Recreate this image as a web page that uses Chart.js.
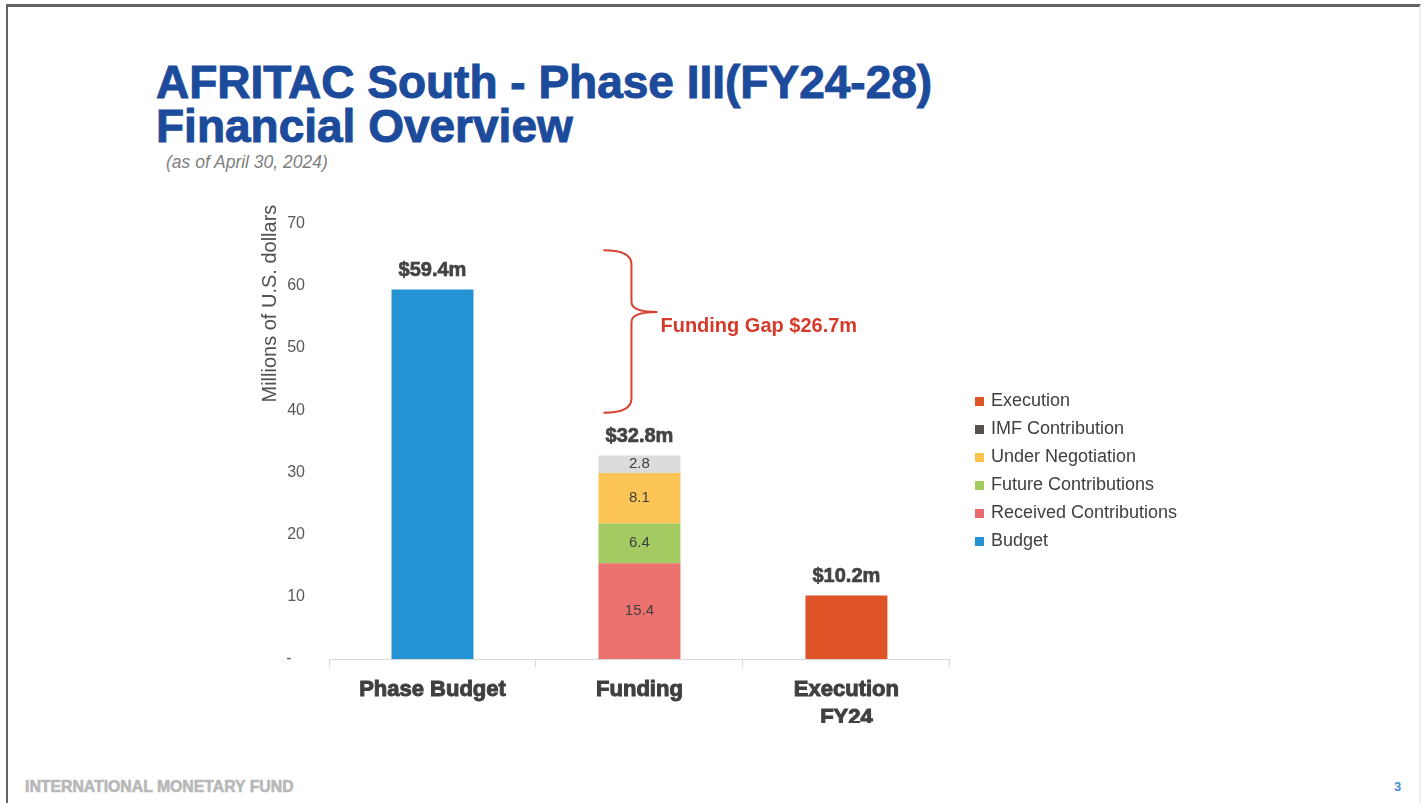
<!DOCTYPE html>
<html>
<head>
<meta charset="utf-8">
<title>AFRITAC South - Phase III Financial Overview</title>
<script src="https://cdn.jsdelivr.net/npm/chart.js@4.4.1/dist/chart.umd.min.js"></script>
<style>
  html, body { margin: 0; padding: 0; background: #fff; }
  body { width: 1426px; height: 803px; position: relative; overflow: hidden; font-family: "Liberation Sans", Arial, sans-serif; }
  .frame { position: absolute; left: 6px; top: 4px; width: 1411px; height: 830px; border-top: 3px solid #636363; border-left: 2px solid #636363; border-right: 2px solid #ececec; }
  .title { position: absolute; left: 156px; top: 60px; font-size: 46px; line-height: 44px; font-weight: bold; color: #1d4b9b; -webkit-text-stroke: 1px #1d4b9b; white-space: nowrap; }
  .sub { position: absolute; left: 166px; top: 152px; font-size: 17.5px; line-height: 20px; font-style: italic; color: #7f7f7f; white-space: nowrap; }
  .footer { position: absolute; left: 25px; top: 778px; font-size: 15.8px; line-height: 18px; font-weight: bold; color: #b8b8b8; -webkit-text-stroke: 0.6px #b8b8b8; white-space: nowrap; }
  .page { position: absolute; left: 1394px; top: 779px; font-size: 13px; line-height: 16px; font-weight: bold; color: #3d8fd6; }
  #chartBox { position: absolute; left: 200px; top: 190px; }
</style>
</head>
<body>
<div class="frame"></div>
<div class="title">AFRITAC South - Phase III(FY24-28)<br>Financial Overview</div>
<div class="sub">(as of April 30, 2024)</div>
<div id="chartBox"><canvas id="chart" width="1000" height="543"></canvas></div>
<div class="footer">INTERNATIONAL MONETARY FUND</div>
<div class="page">3</div>

<script>
// data
const categories = ['Phase Budget', 'Funding', ['Execution', 'FY24']];
const budget = [59.4, null, null];
const received = [null, 15.4, null];
const future = [null, 6.4, null];
const underNegotiation = [null, 8.1, null];
const imfContribution = [null, 2.8, null];
const execution = [null, null, 10.2];
const totalLabels = ['$59.4m', '$32.8m', '$10.2m'];
const yTitle = 'Millions of U.S. dollars';
const gapLabel = 'Funding Gap $26.7m';
const gapRange = [39.6, 65.7]; // brace ends, in millions
const gapTip = 55.8;

// colours
const barColors = ['#2592d4', '#ec726f', '#a4cb62', '#fdc556', '#dcdcdc', '#df5426'];
const legendColors = ['#2592d4', '#ea6b6b', '#a2cb5e', '#fcc24e', '#58524e', '#df5426'];

Chart.defaults.font.family = '"Liberation Sans", Arial, sans-serif';

function legendSquare(color) {
  const c = document.createElement('canvas');
  c.width = 9; c.height = 9;
  const g = c.getContext('2d');
  g.fillStyle = color;
  g.fillRect(0, 0, 9, 9);
  return c;
}

const series = [
  ['Budget', budget],
  ['Received Contributions', received],
  ['Future Contributions', future],
  ['Under Negotiation', underNegotiation],
  ['IMF Contribution', imfContribution],
  ['Execution', execution]
];
const insideLabels = ['Received Contributions', 'Future Contributions', 'Under Negotiation', 'IMF Contribution'];

const datasets = series.map(([name, values], i) => ({
  label: name,
  data: values,
  backgroundColor: barColors[i],
  pointStyle: legendSquare(legendColors[i]),
  barPercentage: 0.396,
  categoryPercentage: 1
}));

// value labels, brace and axis title
const annotations = {
  id: 'annotations',
  afterDatasetsDraw(chart) {
    const { ctx, chartArea, scales: { x, y } } = chart;
    ctx.save();
    ctx.textAlign = 'center';
    ctx.textBaseline = 'middle';

    ctx.font = '15px "Liberation Sans", Arial, sans-serif';
    ctx.fillStyle = '#404040';
    chart.data.datasets.forEach((ds, di) => {
      if (!insideLabels.includes(ds.label)) return;
      chart.getDatasetMeta(di).data.forEach((bar, i) => {
        if (ds.data[i] == null) return;
        ctx.fillText(ds.data[i].toFixed(1), bar.x, (bar.y + bar.base) / 2);
      });
    });

    ctx.font = 'bold 20px "Liberation Sans", Arial, sans-serif';
    ctx.fillStyle = '#434343';
    ctx.strokeStyle = '#434343';
    ctx.lineWidth = 0.7;
    categories.forEach((c, i) => {
      let top = Infinity, cx = 0;
      chart.data.datasets.forEach((ds, di) => {
        if (ds.data[i] == null) return;
        const bar = chart.getDatasetMeta(di).data[i];
        if (bar.y < top) { top = bar.y; cx = bar.x; }
      });
      ctx.strokeText(totalLabels[i], cx, top - 19);
      ctx.fillText(totalLabels[i], cx, top - 19);
    });

    // funding gap brace
    const cx = x.getPixelForValue(1);
    const hookX = cx - 36, spineX = cx - 8, tipX = cx + 18;
    const yTop = y.getPixelForValue(gapRange[1]);
    const yBot = y.getPixelForValue(gapRange[0]);
    const yTip = y.getPixelForValue(gapTip);
    ctx.strokeStyle = '#d8412f';
    ctx.lineWidth = 2;
    ctx.beginPath();
    ctx.moveTo(hookX, yTop);
    ctx.quadraticCurveTo(spineX, yTop, spineX, yTop + 14);
    ctx.lineTo(spineX, yTip - 10);
    ctx.quadraticCurveTo(spineX, yTip, tipX, yTip);
    ctx.moveTo(tipX, yTip);
    ctx.quadraticCurveTo(spineX, yTip, spineX, yTip + 10);
    ctx.lineTo(spineX, yBot - 14);
    ctx.quadraticCurveTo(spineX, yBot, hookX, yBot);
    ctx.stroke();

    ctx.fillStyle = '#d63a2a';
    ctx.textAlign = 'left';
    ctx.fillText(gapLabel, tipX + 3, yTip + 15);

    // y axis title
    ctx.font = '20px "Liberation Sans", Arial, sans-serif';
    ctx.fillStyle = '#505050';
    ctx.textAlign = 'center';
    ctx.translate(chartArea.left - 59, chartArea.top + 80);
    ctx.rotate(-Math.PI / 2);
    ctx.fillText(yTitle, 0, 0);
    ctx.restore();
  }
};

new Chart(document.getElementById('chart'), {
  type: 'bar',
  data: { labels: categories, datasets: datasets },
  options: {
    responsive: false,
    animation: false,
    layout: { padding: { top: 29, left: 69, right: 13, bottom: 10 } },
    plugins: {
      tooltip: { enabled: false },
      legend: {
        position: 'right',
        reverse: true,
        maxWidth: 240,
        labels: {
          usePointStyle: true,
          pointStyleWidth: 5,
          boxHeight: 9,
          padding: 10,
          color: '#404040',
          font: { size: 18 }
        }
      }
    },
    scales: {
      x: {
        stacked: true,
        grid: { display: true, drawOnChartArea: false, offset: true, tickLength: 8, color: '#d9d9d9' },
        border: { display: true, color: '#d9d9d9', width: 1 },
        ticks: {
          color: '#404040',
          textStrokeColor: '#404040',
          textStrokeWidth: 1,
          font: { size: 22, weight: 'bold', lineHeight: 1.27 },
          padding: 9,
          maxRotation: 0
        },
        afterFit: s => { s.height = 64; }
      },
      y: {
        stacked: true,
        min: 0,
        max: 70,
        grid: { display: false, drawTicks: false },
        border: { display: false },
        ticks: {
          stepSize: 10,
          padding: 24,
          color: '#595959',
          font: { size: 16 },
          callback: v => v === 0 ? '-   ' : v
        },
        afterFit: s => { s.width = 60; }
      },
      gap: {
        axis: 'y',
        type: 'linear',
        position: 'right',
        grid: { display: false, drawTicks: false },
        border: { display: false },
        ticks: { display: false },
        afterFit: s => { s.width = 17; }
      }
    }
  },
  plugins: [annotations]
});
</script>
</body>
</html>
